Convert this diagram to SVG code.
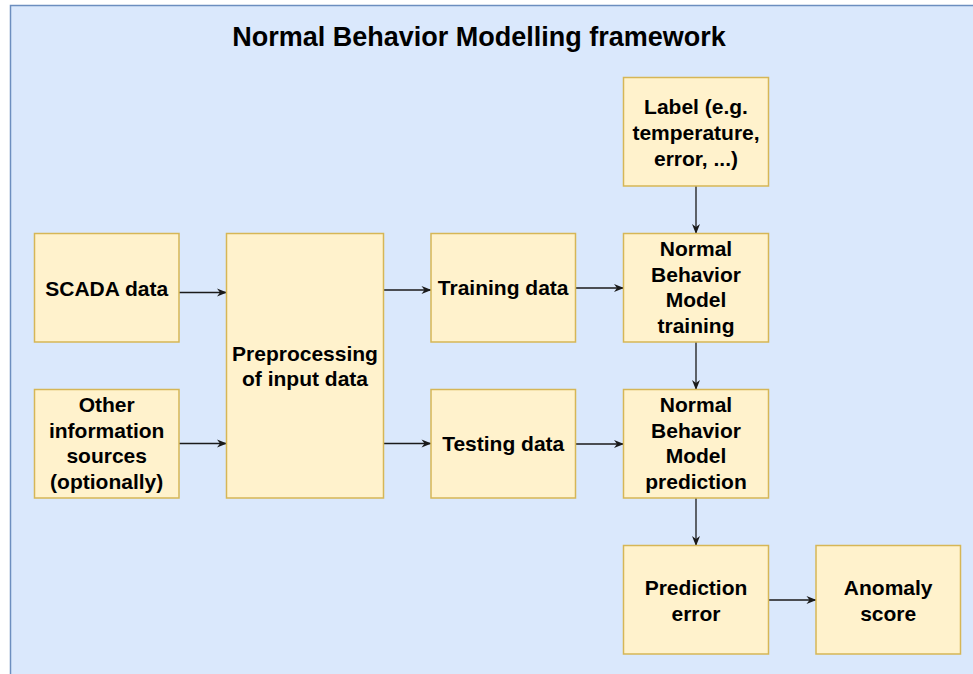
<svg xmlns="http://www.w3.org/2000/svg" width="973" height="674" viewBox="0 0 973 674">
  <style>
    .frame { fill: #dae8fc; stroke: #6c8ebf; stroke-width: 1.5; }
    .box { fill: #fff2cc; stroke: #d6b656; stroke-width: 1.5; }
    .label { font-family: "Liberation Sans", Arial, sans-serif; font-weight: bold; font-size: 21px; fill: #000; text-anchor: middle; }
    .title { font-family: "Liberation Sans", Arial, sans-serif; font-weight: bold; font-size: 27px; fill: #000; text-anchor: middle; }
    .edge { stroke: #1a1a1a; stroke-width: 1.3; fill: none; marker-end: url(#arrow); }
  </style>
  <defs>
    <marker id="arrow" markerUnits="userSpaceOnUse" markerWidth="12" markerHeight="10" viewBox="0 0 12 10" refX="11" refY="5" orient="auto">
      <path d="M1,1 L11,5 L1,9 L4,5 Z" fill="#1a1a1a"/>
    </marker>
  </defs>

  <rect width="973" height="674" fill="#ffffff"/>

  <!-- framework container -->
  <g id="framework">
    <rect class="frame" x="10.5" y="5.5" width="1000" height="700"/>
    <text class="title" x="479" y="46">Normal Behavior Modelling framework</text>
  </g>

  <!-- connectors -->
  <g id="connectors">
    <line class="edge" x1="179" y1="292.5" x2="227" y2="292.5"/>
    <line class="edge" x1="179" y1="443.5" x2="227" y2="443.5"/>
    <line class="edge" x1="383.5" y1="290" x2="431.5" y2="290"/>
    <line class="edge" x1="383.5" y1="443.5" x2="431.5" y2="443.5"/>
    <line class="edge" x1="575.5" y1="288" x2="624" y2="288"/>
    <line class="edge" x1="575.5" y1="444" x2="624" y2="444"/>
    <line class="edge" x1="696" y1="186" x2="696" y2="234"/>
    <line class="edge" x1="696" y1="342" x2="696" y2="390"/>
    <line class="edge" x1="696" y1="498" x2="696" y2="546"/>
    <line class="edge" x1="768.5" y1="600" x2="816.5" y2="600"/>
  </g>

  <g id="scada">
    <rect class="box" x="34.5" y="233.5" width="144.5" height="108.5"/>
    <text class="label" x="106.7" y="295.5">SCADA data</text>
  </g>

  <g id="other-sources">
    <rect class="box" x="34.5" y="389.5" width="144.5" height="108.5"/>
    <text class="label" x="106.7" y="411.7">Other</text>
    <text class="label" x="106.7" y="437.5">information</text>
    <text class="label" x="106.7" y="463">sources</text>
    <text class="label" x="106.7" y="488.5">(optionally)</text>
  </g>

  <g id="preprocessing">
    <rect class="box" x="226.5" y="233.5" width="157" height="264.5"/>
    <text class="label" x="305" y="361">Preprocessing</text>
    <text class="label" x="305" y="386">of input data</text>
  </g>

  <g id="training-data">
    <rect class="box" x="431" y="233.5" width="144.5" height="108.5"/>
    <text class="label" x="503.2" y="295">Training data</text>
  </g>

  <g id="testing-data">
    <rect class="box" x="431" y="389.5" width="144.5" height="108.5"/>
    <text class="label" x="503.2" y="451">Testing data</text>
  </g>

  <g id="label">
    <rect class="box" x="623.5" y="77.5" width="145" height="108.5"/>
    <text class="label" x="696" y="113.5">Label (e.g.</text>
    <text class="label" x="696" y="139.5">temperature,</text>
    <text class="label" x="696" y="165.5">error, ...)</text>
  </g>

  <g id="nbm-training">
    <rect class="box" x="623.5" y="233.5" width="145" height="108.5"/>
    <text class="label" x="696" y="255.7">Normal</text>
    <text class="label" x="696" y="281.5">Behavior</text>
    <text class="label" x="696" y="307.3">Model</text>
    <text class="label" x="696" y="333">training</text>
  </g>

  <g id="nbm-prediction">
    <rect class="box" x="623.5" y="389.5" width="145" height="108.5"/>
    <text class="label" x="696" y="411.7">Normal</text>
    <text class="label" x="696" y="437.5">Behavior</text>
    <text class="label" x="696" y="463.3">Model</text>
    <text class="label" x="696" y="489">prediction</text>
  </g>

  <g id="prediction-error">
    <rect class="box" x="623.5" y="545.5" width="145" height="108.5"/>
    <text class="label" x="696" y="595">Prediction</text>
    <text class="label" x="696" y="620.5">error</text>
  </g>

  <g id="anomaly-score">
    <rect class="box" x="816" y="545.5" width="144.5" height="108.5"/>
    <text class="label" x="888.2" y="595">Anomaly</text>
    <text class="label" x="888.2" y="620.5">score</text>
  </g>
</svg>
